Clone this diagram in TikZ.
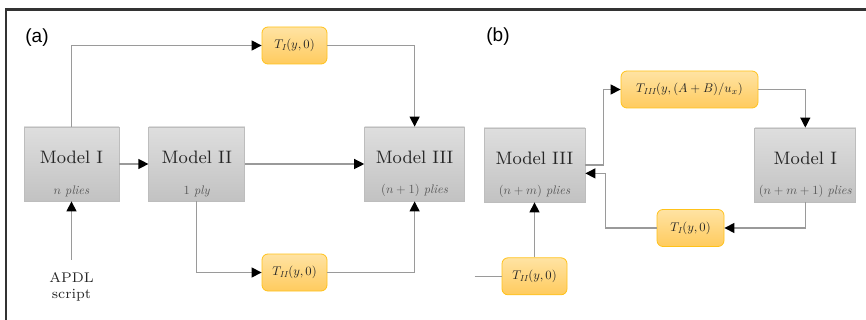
\documentclass[tikz,border=0pt]{standalone}
\usepackage{graphicx}
\usepackage{fontspec}
\newfontfamily\panelfont{Liberation Sans}
\usetikzlibrary{arrows.meta,positioning,calc}
\definecolor{boxtop}{HTML}{DEDEDE}
\definecolor{boxbot}{HTML}{C2C2C2}
\definecolor{boxline}{HTML}{BDBDBD}
\definecolor{tagtop}{HTML}{FFE3A3}
\definecolor{tagbot}{HTML}{FFCB5E}
\definecolor{tagline}{HTML}{FFC21A}
\definecolor{wire}{HTML}{9A9A9A}
% small text set at 10pt and scaled down
\newcommand{\plytext}[1]{\scalebox{0.62}{\fontsize{10}{12}\selectfont #1}}
\newcommand{\tagtext}[1]{\scalebox{0.63}{\fontsize{10}{12}\selectfont #1}}

\begin{document}
\begin{tikzpicture}[x=0.5pt, y=-0.5pt,
  model/.style={draw=boxline, top color=boxtop, bottom color=boxbot, minimum height=37pt, inner sep=0pt,
    text height=6pt, text depth=6pt, font=\fontsize{9}{10}\selectfont, text=black!85},
  sub/.style={text=black!65, anchor=base, inner sep=0pt},
  tag/.style={draw=tagline, top color=tagtop, bottom color=tagbot, rounded corners=3pt, minimum height=18.5pt,
    inner sep=0pt, text=black!85},
  conn/.style={draw=wire, line width=0.6pt},
  arr/.style={conn, -{Triangle[length=5pt, width=5pt, color=black]}},
  panel/.style={font=\panelfont\fontsize{9.5}{11}\selectfont, inner sep=0pt, anchor=west}]
  \useasboundingbox (0,0) rectangle (866,320);
  % frame
  \draw[line width=1.2pt, black!80] (6,320) -- (6,9.5) -- (866,9.5);

  % (a)
  \node[panel] (pa) at (25,38) {(a)};
  \node[model, minimum width=47.5pt] (mI) at (71.5,164) {Model I};
  \node[model, minimum width=48pt, right=14.5pt of mI] (mII) {Model II};
  \node[model, minimum width=50pt, right=59.5pt of mII] (mIIIa) {Model III};
  \node[sub] (mIsub) at ([yshift=3.5pt]mI.south) {\plytext{$n$ \textit{plies}}};
  \node[sub] (mIIsub) at ([yshift=3.5pt]mII.south) {\plytext{1 \textit{ply}}};
  \node[sub] (mIIIasub) at ([yshift=4pt]mIIIa.south) {\plytext{$(n+1)$ \textit{plies}}};
  \node[tag, minimum width=32.5pt] (tIa) at (294.5,45.5) {\tagtext{$T_{\mathit{I}}(y,0)$}};
  \node[tag, minimum width=32.5pt] (tIIa) at (294.5,272.5) {\tagtext{$T_{\mathit{II}}(y,0)$}};
  \node[font=\fontsize{7}{8}\selectfont, align=center, inner sep=6pt, text=black!85] (apdl) at (71.5,286.5) {APDL\\script};
  \draw[arr] (apdl) -- (mI);
  \draw[arr] (mI) -- (mII);
  \draw[arr] (mII) -- (mIIIa);
  \draw[arr] (mI.north) |- (tIa.west);
  \draw[arr] (tIa.east) -| (mIIIa.north);
  \draw[arr] (mII.south) |- (tIIa.west);
  \draw[arr] (tIIa.east) -| (mIIIa.south);

  % (b)
  \node[panel] (pb) at (486,37) {(b)};
  \node[model, minimum width=50.5pt] (mIIIb) at (534.5,165) {Model III};
  \node[model, minimum width=50.5pt, right=84.5pt of mIIIb] (mIb) {Model I};
  \node[sub] (mIIIbsub) at ([yshift=4pt]mIIIb.south) {\plytext{$(n+m)$ \textit{plies}}};
  \node[sub] (mIbsub) at ([yshift=4pt]mIb.south) {\plytext{$(n+m+1)$ \textit{plies}}};
  \node[tag, minimum width=68.5pt] (tIII) at (689.5,89.5) {\tagtext{$T_{\mathit{III}}(y,(A+B)/u_x)$}};
  \node[tag, minimum width=33.5pt] (tIb) at (690.5,228) {\tagtext{$T_{\mathit{I}}(y,0)$}};
  \node[tag, minimum width=32.5pt, below=27.5pt of mIIIb] (tIIb) {\tagtext{$T_{\mathit{II}}(y,0)$}};
  \coordinate (bin) at ([xshift=-13.5pt]tIIb.west);
  \coordinate (bret) at ([yshift=-4.2pt]mIIIb.east);
  \draw[arr] (mIIIb.east) -- ++(18,0) |- (tIII.west);
  \draw[arr] (tIII.east) -| (mIb.north);
  \draw[arr] (mIb.south) |- (tIb.east);
  \draw[arr] (tIb.west) -| ([xshift=10pt]bret) -- (bret);
  \draw[arr] (tIIb) -- (mIIIb);
  \draw[conn] (bin) -- (tIIb.west);
\end{tikzpicture}
\end{document}
